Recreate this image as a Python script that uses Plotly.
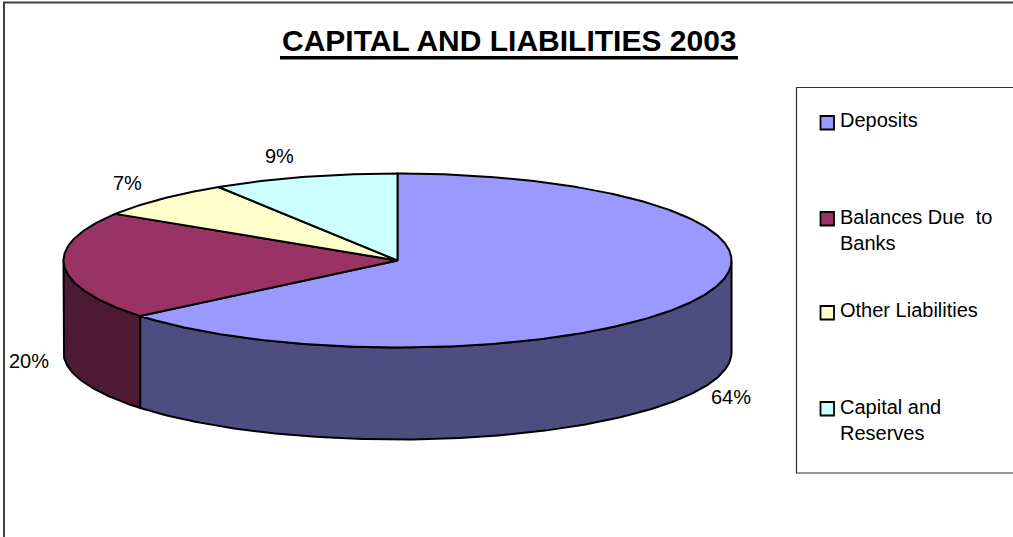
import numpy as np
import plotly.graph_objects as go

# Chart content
title_text = "CAPITAL AND LIABILITIES 2003"
categories = ["Deposits", "Balances Due\u00a0\u00a0to<br>Banks", "Other Liabilities", "Capital and<br>Reserves"]
shares = [64, 20, 7, 9]
top_colors = ["#9999FF", "#993366", "#FFFFCC", "#CCFFFF"]
wall_colors = ["#4D4D80", "#4D1A33", "#808066", "#668080"]

# Canvas and pie geometry, in pixels
W, H = 1013, 537
CX, CY, RX, RY, DEPTH = 397.5, 260.5, 334.0, 87.0, 92.0
SQUASH = RY / RX
THICK = DEPTH / RX
LINE = 2.0


def px(x):
    return x / W


def py(y):
    return 1 - y / H


def rim(start, stop, drop=0.0):
    """Points of the elliptical rim between two clockwise angles from 12 o'clock."""
    n = max(2, int(abs(stop - start) * 1.5))
    t = np.radians(np.linspace(start, stop, n))
    return np.sin(t), SQUASH * np.cos(t) - drop


fig = go.Figure()

edges = np.concatenate([[0.0], np.cumsum(shares)]) * 360.0 / sum(shares)

# Outer wall: only the part of the rim facing the viewer (90 to 270 degrees)
for start, stop, color in zip(edges[:-1], edges[1:], wall_colors):
    a, b = max(start, 90.0), min(stop, 270.0)
    if a >= b:
        continue
    xt, yt = rim(a, b)
    xb, yb = rim(b, a, THICK)
    fig.add_trace(go.Scatter(
        x=np.r_[xt, xb, xt[0]], y=np.r_[yt, yb, yt[0]],
        mode="lines", fill="toself", fillcolor=color,
        line=dict(color="black", width=LINE), hoverinfo="skip", showlegend=False,
    ))

# Top face wedges
for start, stop, color in zip(edges[:-1], edges[1:], top_colors):
    xt, yt = rim(start, stop)
    fig.add_trace(go.Scatter(
        x=np.r_[0.0, xt, 0.0], y=np.r_[0.0, yt, 0.0],
        mode="lines", fill="toself", fillcolor=color,
        line=dict(color="black", width=LINE), hoverinfo="skip", showlegend=False,
    ))

shapes = [
    # Chart frame
    dict(type="line", xref="paper", yref="paper", x0=px(4), x1=px(4), y0=py(2), y1=py(537),
         line=dict(color="#404040", width=2)),
    dict(type="line", xref="paper", yref="paper", x0=px(3), x1=px(W), y0=py(2.5), y1=py(2.5),
         line=dict(color="#404040", width=2)),
    # Title underline
    dict(type="rect", xref="paper", yref="paper", x0=px(280), x1=px(738), y0=py(56), y1=py(59.5),
         fillcolor="black", line=dict(width=0)),
    # Legend box
    dict(type="path", xref="paper", yref="paper",
         path=f"M {px(W)} {py(87.5)} L {px(796.5)} {py(87.5)} L {px(796.5)} {py(473)} L {px(W)} {py(473)}",
         line=dict(color="#303030", width=1.2)),
]

annotations = [
    dict(text=f"<b>{title_text}</b>", x=px(509), y=py(40), xanchor="center", yanchor="middle",
         font=dict(size=30)),
]

# Percentage labels, placed beside their wedges
label_spots = [(731, 397), (29, 361), (127, 183), (279, 156)]
for share, (lx, ly) in zip(shares, label_spots):
    annotations.append(dict(text=f"{share}%", x=px(lx), y=py(ly), xanchor="center", yanchor="middle",
                            font=dict(size=20)))

# Legend rows: swatch top edge and text centre
swatch_tops = [115, 211, 305, 401]
text_centers = [120, 230, 310, 420]
for name, color, top, mid in zip(categories, top_colors, swatch_tops, text_centers):
    shapes.append(dict(type="rect", xref="paper", yref="paper",
                       x0=px(820.5), x1=px(834), y0=py(top + 1), y1=py(top + 14.5),
                       fillcolor=color, line=dict(color="black", width=1.8)))
    annotations.append(dict(text=name, x=px(839), y=py(mid), xanchor="left", yanchor="middle",
                            align="left", font=dict(size=20)))

for a in annotations:
    a.update(xref="paper", yref="paper", showarrow=False, borderpad=0)
    a["font"].update(family="Liberation Sans, Arial, sans-serif", color="#000000")

fig.update_layout(
    width=W, height=H, margin=dict(l=0, r=0, t=0, b=0),
    paper_bgcolor="white", plot_bgcolor="white", showlegend=False,
    xaxis=dict(range=[-CX / RX, (W - CX) / RX], visible=False, fixedrange=True),
    yaxis=dict(range=[(CY - H) / RX, CY / RX], visible=False, fixedrange=True),
    shapes=shapes, annotations=annotations,
)

fig.write_html("out.html", config=dict(displayModeBar=False))
